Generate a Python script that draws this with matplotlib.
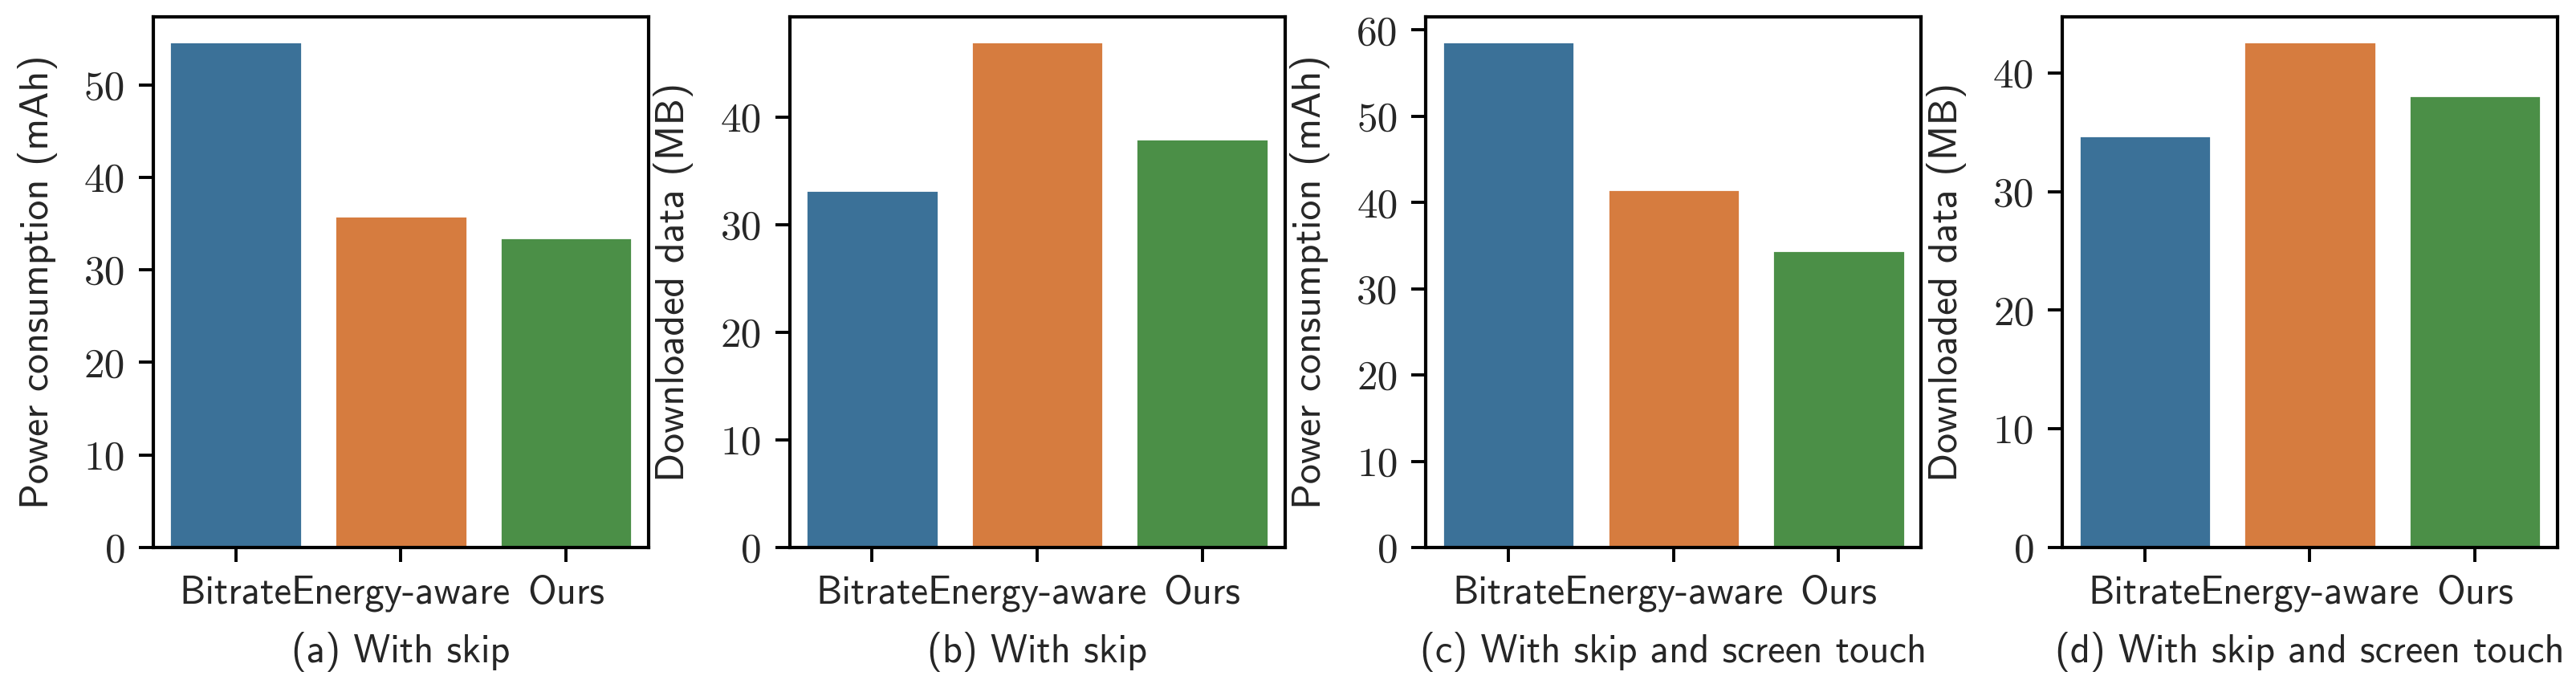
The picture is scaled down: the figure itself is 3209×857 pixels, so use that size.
import matplotlib
matplotlib.use("Agg")
import matplotlib.pyplot as plt
from matplotlib.ticker import MultipleLocator
import seaborn as sns

methods = ["Bitrate", "Energy-aware", "Ours"]

power_skip = [54.6, 35.8, 33.5]
data_skip = [33.2, 47.0, 38.0]
power_touch = [58.6, 41.5, 34.4]
data_touch = [34.7, 42.6, 38.1]

ylabels = ["Power consumption (mAh)", "Downloaded data (MB)",
           "Power consumption (mAh)", "Downloaded data (MB)"]
captions = ["(a) With skip", "(b) With skip",
            "(c) With skip and screen touch", "(d) With skip and screen touch"]

sns.set_style("ticks")
plt.rcParams['font.family'] = ['cmss10', 'DejaVu Sans']
plt.rcParams['axes.unicode_minus'] = False

FS = 17.5

# muted tab10, as in the original
colors = ["#3b7198", "#d67c3f", "#4b8f47"]

fig, axes = plt.subplots(1, 4, figsize=(16.045, 4.285), dpi=200)
fig.subplots_adjust(left=0.0595, right=0.9928, bottom=0.2042, top=0.9755, wspace=0.285)

series = [power_skip, data_skip, power_touch, data_touch]
for ax, vals, ylab, cap in zip(axes, series, ylabels, captions):
    sns.barplot(x=methods, y=vals, hue=methods, palette=colors, saturation=1,
                legend=False, ax=ax)
    ax.yaxis.set_major_locator(MultipleLocator(10))
    ax.set_ylabel(ylab, fontsize=FS + 0.5, labelpad=12)
    ax.set_xlabel(cap, fontsize=FS, labelpad=9)
    for sp in ax.spines.values():
        sp.set_linewidth(1.5)
        sp.set_color("black")
    ax.tick_params(axis="both", length=6.5, width=1.4, color="black", pad=6)
    for lab in ax.get_yticklabels():
        lab.set_fontfamily("cmr10")
        lab.set_fontsize(FS + 1)
    for lab in ax.get_xticklabels():
        lab.set_fontsize(FS)

fig.savefig("out.png", dpi=200)
